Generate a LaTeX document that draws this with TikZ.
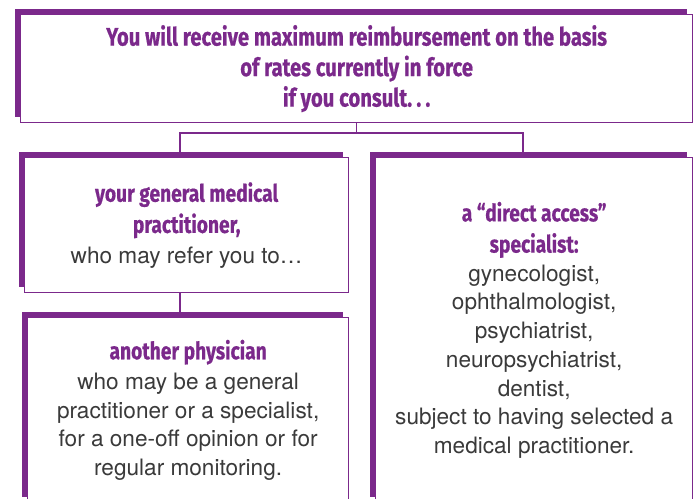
\documentclass[tikz,border=0pt]{standalone}
\usepackage{fontspec}
\setsansfont{TeX Gyre Heros}
\newfontfamily\headfont[FakeStretch=0.8, BoldFeatures={FakeBold=0.6}]{Fira Sans}
\usetikzlibrary{shadows}
\definecolor{purp}{RGB}{123,41,139}
\definecolor{txt}{RGB}{58,58,58}
\newcommand{\hd}[1]{{\headfont\bfseries\fontsize{24}{28.5}\selectfont\color{purp}#1}}

\begin{document}
\begin{tikzpicture}[x=1pt, y=-1pt,
    box/.style={draw=purp, line width=1.3pt, fill=white, align=center, inner sep=0pt,
        anchor=north west, text=txt, font=\sffamily\fontsize{22.6}{28.7}\selectfont,
        general shadow={fill=purp, shadow xshift=-6pt, shadow yshift=6pt}},
    link/.style={draw=purp, line width=1.3pt}]
    \path[use as bounding box] (0,0) rectangle (696,498);

    \node[box, minimum width=672pt, minimum height=108pt, text=purp,
        font=\headfont\bfseries\fontsize{25.3}{30.5}\selectfont] (top) at (20,14)
        {You will receive maximum reimbursement on the basis\\ of rates currently in force\\ if you consult.\,.\,.};
    \node[box, minimum width=324pt, minimum height=135pt] (gp) at (24,157)
        {\hd{your general medical}\\[2.5pt] \hd{practitioner,}\\[1.5pt] who may refer you to\ldots};
    \node[box, minimum width=321pt, minimum height=185pt] (phys) at (27,317)
        {\hd{another physician}\\[1.5pt] who may be a general\\ practitioner or a specialist,\\
         for a one-off opinion or for\\ regular monitoring.};
    \node[box, minimum width=317pt, minimum height=345pt] (spec) at (375,157)
        {\hd{a “direct access”}\\[2.5pt] \hd{specialist:}\\ gynecologist,\\ ophthalmologist,\\ psychiatrist,\\
         neuropsychiatrist,\\ dentist,\\ subject to having selected a\\ medical practitioner.};

    \coordinate (forkL) at (180,133);
    \coordinate (forkR) at (523,133);
    \draw[link] (top.south) -- (top.south |- forkL);
    \draw[link] (forkL |- gp.north) -- (forkL) -- (forkR) -- (forkR |- spec.north);
    \draw[link] (forkL |- gp.south) -- (forkL |- phys.north);
\end{tikzpicture}
\end{document}
